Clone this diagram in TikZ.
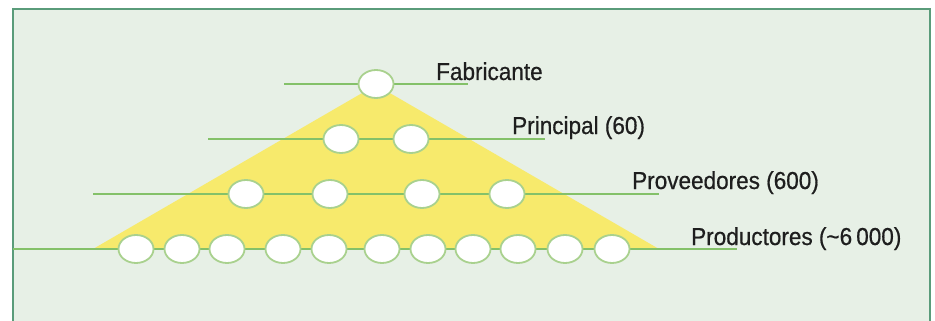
\documentclass[tikz,border=0pt]{standalone}
\usepackage{fontspec}
\setmainfont{Liberation Sans}[FakeStretch=0.92,FakeBold=0.6]
\definecolor{bgc}{HTML}{E7F0E6}
\definecolor{framec}{HTML}{5A9C7A}
\definecolor{linec}{HTML}{84C169}
\definecolor{ellc}{HTML}{A9D18E}
\definecolor{yel}{HTML}{F7EA6C}
\definecolor{txt}{HTML}{1E1E1E}
\tikzset{
  org/.style={ellipse, draw=ellc, line width=1.8pt, fill=white, minimum width=35pt, minimum height=28pt, inner sep=0pt},
  lvl/.style={draw=linec, line width=2.2pt},
  lab/.style={anchor=base west, inner sep=0pt, text=txt, font=\fontsize{24.5}{28}\selectfont}
}
\usetikzlibrary{shapes.geometric}
\begin{document}
\begin{tikzpicture}[x=1pt,y=-1pt]
\useasboundingbox (0,0) rectangle (935,321);
\fill[white] (0,0) rectangle (935,321);
\fill[bgc] (13,9) rectangle (930,325);
\draw[framec, line width=2.2pt] (13,325) -- (13,9) -- (930,9) -- (930,325);
% yellow triangle
\fill[yel] (376,85) -- (93,249) -- (659,249) -- cycle;
% level line end points
\coordinate (fa1) at (284,84);  \coordinate (fa2) at (468,84);
\coordinate (pr1) at (208,139); \coordinate (pr2) at (545,139);
\coordinate (pv1) at (93,194);  \coordinate (pv2) at (659,194);
\coordinate (pd1) at (13,249);  \coordinate (pd2) at (737,249);
\draw[lvl] (fa1) -- (fa2);
\draw[lvl] (pr1) -- (pr2);
\draw[lvl] (pv1) -- (pv2);
\draw[lvl] (pd1) -- (pd2);
% ellipses
\node[org] (f1) at (376,84) {};
\node[org] (p1) at (341,139) {};
\node[org] (p2) at (411,139) {};
\foreach \x [count=\i] in {246,330,422,507} \node[org] (v\i) at (\x,194) {};
\foreach \x [count=\i] in {136,182,227,283,329,382,428,473,518,565,612} \node[org] (d\i) at (\x,249) {};
% labels
\node[lab] (lf) at (436,80) {Fabricante};
\node[lab] (lp) at (512,134) {Principal (60)};
\node[lab] (lv) at (632,189) {Proveedores (600)};
\node[lab] (ld) at (691,245) {Productores ({\char"7E}6\,000)};
\end{tikzpicture}
\end{document}
